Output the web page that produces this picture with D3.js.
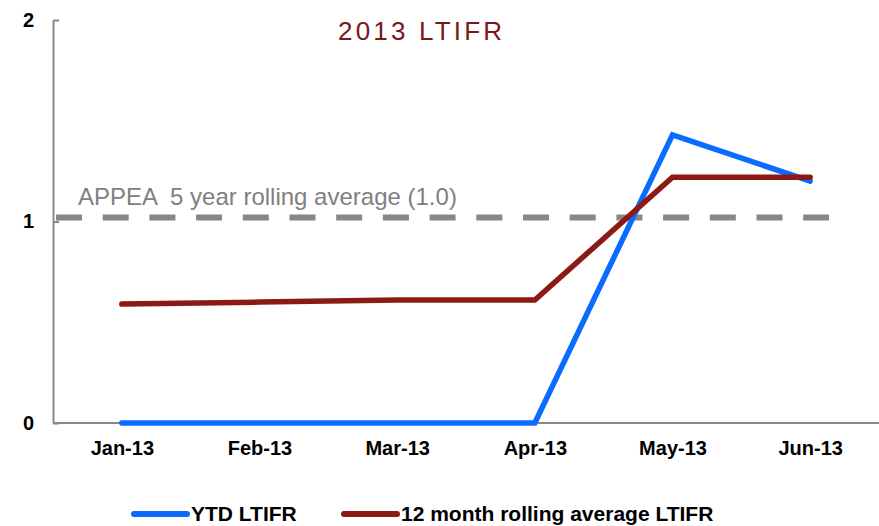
<!DOCTYPE html>
<html lang="en">
    <head>
        <meta charset="utf-8">
        <title>2013 LTIFR</title>
        <script type="text/javascript" src="https://d3js.org/d3.v7.min.js"></script>
        <style>
            body {
                margin: 0;
                background: white;
            }

            svg text {
                font-family: Arial, "Liberation Sans", sans-serif;
            }

            .axis path, .axis line {
                stroke: #888888;
                stroke-width: 2;
            }

            .axis text {
                font-weight: bold;
                fill: #000;
            }

            .refLine {
                stroke: #878787;
                stroke-width: 6;
                stroke-dasharray: 26, 20.7;
                fill: none;
            }

            .refLabel {
                fill: #808080;
                font-size: 24px;
            }

            .title {
                fill: #7a1717;
                font-size: 26px;
            }

            .legend text {
                font-weight: bold;
                font-size: 21px;
            }
        </style>
    </head>
    <body>
        <div id="svgContainer"></div>
        <script type="text/javascript">
            //chart data
            let months = ["Jan-13", "Feb-13", "Mar-13", "Apr-13", "May-13", "Jun-13"];
            let ytdLtifr = [0, 0, 0, 0, 1.43, 1.20];
            let rollingLtifr = [0.59, 0.60, 0.61, 0.61, 1.22, 1.22];
            let appeaAverage = 1.02;
            let yTicks = [0, 1, 2];

            let seriesNames = ["YTD LTIFR", "12 month rolling average LTIFR"];
            let seriesColors = ["#0a6cff", "#8b1a14"];

            //set svg size
            let w = 879;
            let h = 526;
            let plotLeft = 53, plotRight = 879, plotTop = 20, plotBottom = 423;

            let svg = d3.select("#svgContainer")
                        .append("svg")
                        .attr("width", w)
                        .attr("height", h);

            let xScale = d3.scalePoint()
                            .domain(months)
                            .range([plotLeft, plotRight])
                            .padding(0.5);

            let yScale = d3.scaleLinear()
                            .domain([0, 2])
                            .range([plotBottom, plotTop]);

            //y axis with small inward ticks
            let yAxis = d3.axisLeft(yScale)
                            .tickValues(yTicks)
                            .tickFormat(d3.format("d"))
                            .tickSizeInner(-6)
                            .tickSizeOuter(0)
                            .tickPadding(19);

            svg.append("g")
                .attr("class", "axis axis-y")
                .attr("transform", `translate(${plotLeft}, 0)`)
                .call(yAxis)
                .selectAll("text")
                .style("font-size", "20px");

            //x axis without tick marks
            let xAxis = d3.axisBottom(xScale)
                            .tickSize(0)
                            .tickPadding(18);

            let gx = svg.append("g")
                .attr("class", "axis axis-x")
                .attr("transform", `translate(0, ${plotBottom})`)
                .call(xAxis);
            gx.select(".domain").attr("d", `M${plotLeft},0H${plotRight}`);
            gx.selectAll("text").style("font-size", "20px");

            //APPEA reference line
            svg.append("line")
                .attr("class", "refLine")
                .attr("x1", plotLeft + 3)
                .attr("x2", 829)
                .attr("y1", yScale(appeaAverage))
                .attr("y2", yScale(appeaAverage));

            svg.append("text")
                .attr("class", "refLabel")
                .attr("x", 78)
                .attr("y", yScale(appeaAverage) - 12)
                .style("white-space", "pre")
                .text("APPEA  5 year rolling average (1.0)");

            //series lines
            let line = d3.line()
                        .x((d, i) => xScale(months[i]))
                        .y(d => yScale(d));

            [ytdLtifr, rollingLtifr].forEach((series, k) => {
                svg.append("path")
                    .datum(series)
                    .attr("d", line)
                    .attr("fill", "none")
                    .attr("stroke", seriesColors[k])
                    .attr("stroke-width", 5.5)
                    .attr("stroke-linecap", "round")
                    .attr("stroke-linejoin", "miter");
            });

            //title
            svg.append("text")
                .attr("class", "title")
                .attr("x", 338)
                .attr("y", 40)
                .attr("textLength", 164)
                .attr("lengthAdjust", "spacing")
                .text("2013 LTIFR");

            //legend
            let legendX = [134, 344];
            let legend = svg.append("g").attr("class", "legend");
            seriesNames.forEach((name, k) => {
                legend.append("line")
                    .attr("x1", legendX[k])
                    .attr("x2", legendX[k] + 53)
                    .attr("y1", 514)
                    .attr("y2", 514)
                    .attr("stroke", seriesColors[k])
                    .attr("stroke-width", 6)
                    .attr("stroke-linecap", "round");
                legend.append("text")
                    .attr("x", legendX[k] + 57)
                    .attr("y", 521)
                    .text(name);
            });
        </script>
    </body>
</html>
